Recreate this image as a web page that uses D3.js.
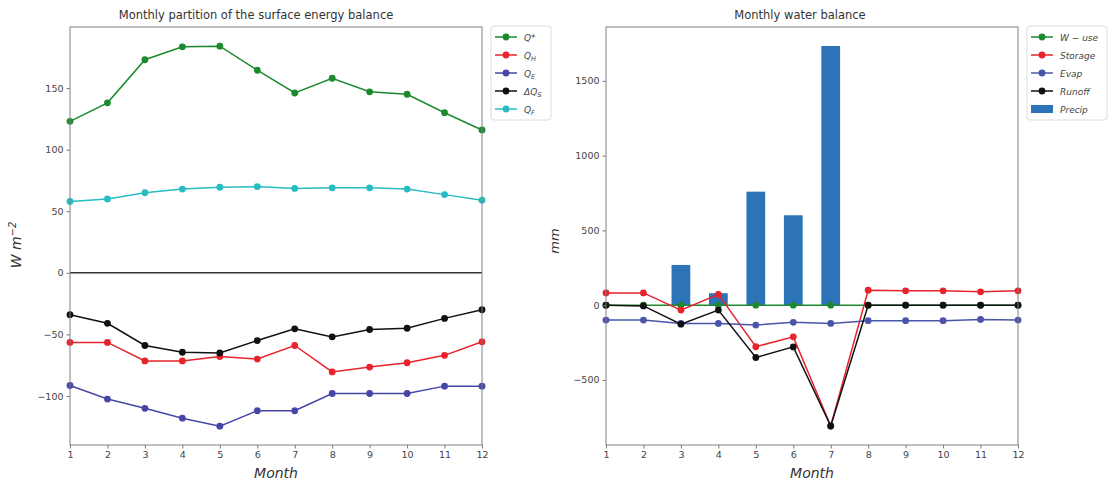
<!DOCTYPE html>
<html><head><meta charset="utf-8">
<script src="https://cdn.jsdelivr.net/npm/d3@7"></script>
<style>
body{margin:0;background:#fff;}
text{font-family:"DejaVu Sans",sans-serif;}
</style>
</head><body>
<svg id="c" width="1110" height="487"></svg>
<script>
// ---------- data ----------
const months = [1,2,3,4,5,6,7,8,9,10,11,12];
const monthTicks = [1,2,3,4,5,6,7,8,9,10,11,12];

// energy balance (W m-2)
const qStar = [123,138,173,183.5,184,164.5,146,158,147,145,130,116];
const qH    = [-56.5,-56.5,-71.5,-71.5,-68,-70,-59,-80.5,-76.5,-73,-67,-56];
const qE    = [-91.5,-102.5,-110,-118,-124.5,-112,-112,-98,-98,-98,-92,-92];
const dQS   = [-34,-41,-59,-64.5,-65,-55,-45.5,-52,-46,-45,-37,-30];
const qF    = [58,60,65,68,69.5,70,68.5,69,69,68,63.5,59];
const energyTicks = [-100,-50,0,50,100,150];

// water balance (mm)
const wUse    = [0,0,0,0,0,0,0,0,0,0,0,0];
const storage = [82,82,-33,72,-278,-212,-808,100,96,96,89,96];
const evap    = [-100,-100,-122,-122,-133,-115,-122,-104,-104,-104,-95,-100];
const runoff  = [0,-5,-127,-33,-350,-279,-808,0,0,0,0,0];
const precip  = [0,0,269,80,759,601,1733,0,0,0,0,0];
const waterTicks = [-500,0,500,1000,1500];

const energySeries = [
  {label:"Q*", sub:"", pre:"", values:qStar, color:"#1b8a2e"},
  {label:"Q", sub:"H", pre:"", values:qH, color:"#e8232b"},
  {label:"Q", sub:"E", pre:"", values:qE, color:"#4646a6"},
  {label:"Q", sub:"S", pre:"Δ", values:dQS, color:"#111111"},
  {label:"Q", sub:"F", pre:"", values:qF, color:"#27bcc2"}
];
const waterSeries = [
  {label:"W − use", values:wUse, color:"#1b8a2e"},
  {label:"Storage", values:storage, color:"#e8232b"},
  {label:"Evap", values:evap, color:"#4a55aa"},
  {label:"Runoff", values:runoff, color:"#111111"}
];

const svg = d3.select("#c");
const TOP = 27, BOTTOM = 445;

function panel(opt){
  const x = d3.scaleLinear().domain([1,12]).range([opt.x0, opt.x1]);
  const y = d3.scaleLinear().domain(opt.ydomain).range([BOTTOM, TOP]);
  const g = svg.append("g");

  if (opt.bars){
    const bw = x(1.5)-x(1);
    g.selectAll("rect.bar").data(months.map((m,i)=>({m, v:opt.bars[i]})))
      .enter().append("rect")
      .attr("x", d=>x(d.m)-bw/2).attr("width", bw)
      .attr("y", d=>y(Math.max(0,d.v))).attr("height", d=>Math.abs(y(d.v)-y(0)))
      .attr("fill", "#2d73b8");
  }
  if (opt.zeroLine){
    g.append("line").attr("x1",opt.x0).attr("x2",opt.x1)
      .attr("y1",y(0)).attr("y2",y(0)).attr("stroke","#333").attr("stroke-width",1.6);
  }
  const line = d3.line().x((d,i)=>x(months[i])).y(d=>y(d));
  opt.series.forEach(s=>{
    g.append("path").attr("d", line(s.values)).attr("fill","none")
      .attr("stroke", s.color).attr("stroke-width",1.5);
    g.selectAll(null).data(s.values).enter().append("circle")
      .attr("cx",(d,i)=>x(months[i])).attr("cy",d=>y(d)).attr("r",3.4)
      .attr("fill", s.color);
  });

  const xa = g.append("g").attr("transform",`translate(0,${BOTTOM})`)
    .call(d3.axisBottom(x).tickValues(monthTicks).tickFormat(d3.format("d")).tickSize(3.5).tickPadding(3));
  const ya = g.append("g").attr("transform",`translate(${opt.x0},0)`)
    .call(d3.axisLeft(y).tickValues(opt.yticks).tickFormat(d=>d<0?"−"+Math.abs(d):d).tickSize(3.5).tickPadding(3));
  [xa,ya].forEach(a=>{
    a.select(".domain").remove();
    a.selectAll("line").attr("stroke","#777");
    a.selectAll("text").attr("fill","#444").style("font-size","9.5px");
  });
  g.append("rect").attr("x",opt.x0).attr("y",TOP).attr("width",opt.x1-opt.x0).attr("height",BOTTOM-TOP)
    .attr("fill","none").attr("stroke","#808080").attr("stroke-width",1);

  g.append("text").attr("x",opt.titleX).attr("y",19).attr("text-anchor","middle")
    .style("font-size","11.5px").attr("fill","#333").text(opt.title);
  g.append("text").attr("x",(opt.x0+opt.x1)/2).attr("y",478).attr("text-anchor","middle")
    .style("font-size","14px").style("font-style","italic").attr("fill","#333").text("Month");
  return {x,y,g};
}

panel({x0:70, x1:482, ydomain:[-139.8,199.6], yticks:energyTicks,
  series:energySeries, zeroLine:true,
  title:"Monthly  partition of the surface energy balance", titleX:256});
const yl = svg.append("text").attr("transform","translate(21,245) rotate(-90)")
  .attr("text-anchor","middle").style("font-size","14px").style("font-style","italic").attr("fill","#333");
yl.append("tspan").text("W m");
yl.append("tspan").attr("dy",-5).style("font-size","10px").text("−2");

panel({x0:606, x1:1018, ydomain:[-935,1860], yticks:waterTicks,
  series:waterSeries, bars:precip, zeroLine:false,
  title:"Monthly water balance", titleX:800});
svg.append("text").attr("transform","translate(559,241) rotate(-90)")
  .attr("text-anchor","middle").style("font-size","13px").style("font-style","italic").attr("fill","#333").text("mm");

function legend(x0, y0, w, h, items){
  const lg = svg.append("g");
  lg.append("rect").attr("x",x0).attr("y",y0).attr("width",w).attr("height",h).attr("rx",3)
    .attr("fill","#fff").attr("stroke","#dcdcdc");
  items.forEach((s,i)=>{
    const yy = y0+11+i*18;
    if (s.patch){
      lg.append("rect").attr("x",x0+4).attr("y",yy-4).attr("width",22).attr("height",8).attr("fill","#2d73b8");
    } else {
      lg.append("line").attr("x1",x0+4).attr("x2",x0+26).attr("y1",yy).attr("y2",yy)
        .attr("stroke",s.color).attr("stroke-width",1.5);
      lg.append("circle").attr("cx",x0+15).attr("cy",yy).attr("r",3.4).attr("fill",s.color);
    }
    const t = lg.append("text").attr("x",x0+33).attr("y",yy+3.5).style("font-size","9px")
      .style("font-style","italic").attr("fill","#444");
    if (s.pre) t.append("tspan").text(s.pre);
    t.append("tspan").text(s.label);
    if (s.sub) t.append("tspan").attr("dy",2.5).style("font-size","6.5px").text(s.sub);
  });
}
legend(491, 26, 60, 94, energySeries);
legend(1027, 26, 80, 94, waterSeries.concat([{label:"Precip", patch:true}]));
</script>
</body></html>
